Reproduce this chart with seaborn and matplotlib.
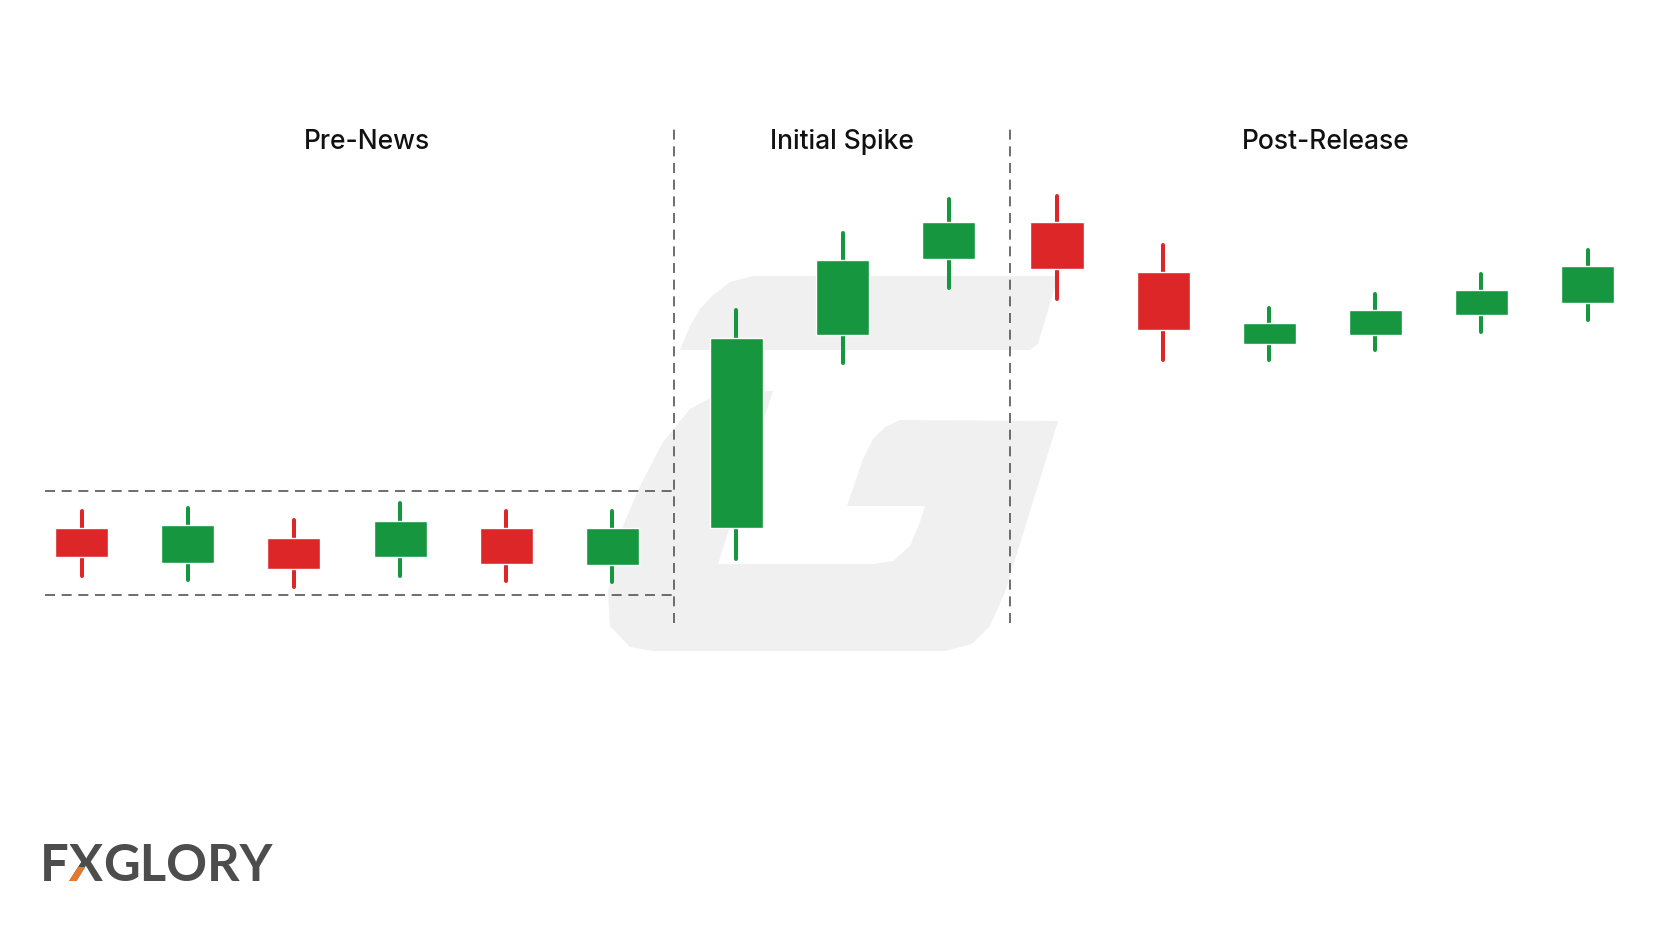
import matplotlib
matplotlib.use("Agg")
import matplotlib.pyplot as plt
from matplotlib.patches import Polygon, Rectangle
from matplotlib.transforms import IdentityTransform
import seaborn as sns
import numpy as np

# candle data (15 bars, arbitrary price units)
sections = ["Pre-News", "Initial Spike", "Post-Release"]
section_of = [0, 0, 0, 0, 0, 0, 1, 1, 1, 2, 2, 2, 2, 2, 2]
opens = [14.2, 10.9, 13.2, 11.4, 14.2, 10.7, 14.2, 32.4, 39.5, 43.0, 38.3, 31.5, 32.4, 34.2, 35.4]
closes = [11.4, 14.5, 10.3, 14.8, 10.8, 14.2, 32.1, 39.4, 43.0, 38.6, 32.8, 33.5, 34.7, 36.6, 38.9]
highs = [15.8, 16.1, 14.9, 16.5, 15.8, 15.8, 34.7, 42.0, 45.2, 45.4, 40.8, 34.9, 36.2, 38.1, 40.4]
lows = [9.7, 9.3, 8.6, 9.7, 9.2, 9.1, 11.3, 29.7, 36.8, 35.7, 30.0, 30.0, 30.9, 32.6, 33.8]

UP = "#16963f"
DOWN = "#dc2628"
DASH = "#555555"
LOGO = "#4d4d4d"

sns.set_theme(style="white")
plt.rcParams['font.family'] = ['Inter', 'DejaVu Sans']

W, H = 1664, 928
fig = plt.figure(figsize=(W / 100, H / 100), dpi=100, facecolor="white")
ax = fig.add_axes([0, 0, 1, 1])
ax.set_axis_off()
ax.set_xlim(-0.77, 14.91)
ax.set_ylim(-23.4, 64.0)

# small gap between the phases
offsets = np.array([0, 0.17, 0.19])
sec = np.array(section_of)
x = np.arange(len(opens)) + offsets[sec]
o = np.array(opens); c = np.array(closes)
colors = [UP if cc >= oo else DOWN for oo, cc in zip(o, c)]

# watermark "G" (figure pixel coords, top-left origin)
top_bar = [(680, 351), (690, 327), (700, 310), (712, 297), (730, 283), (753, 277), (1058, 277),
           (1038, 345), (1030, 351)]
g_body = [(773, 392), (737, 392), (712, 398), (690, 410), (663, 443), (640, 487), (623, 527),
          (608, 593), (610, 627), (630, 648), (653, 652), (945, 652), (972, 645), (990, 627),
          (1005, 593), (1058, 422), (900, 421), (885, 428), (873, 440), (863, 460), (847, 507),
          (925, 507), (920, 523), (910, 547), (893, 562), (873, 565), (718, 565)]
for pts in (top_bar, g_body):
    ax.add_patch(Polygon([(px / W, 1 - py / H) for px, py in pts], closed=True,
                         transform=fig.transFigure, facecolor="#f0f0f0", edgecolor="none", zorder=0))

# candles
ax.vlines(x, lows, highs, colors=colors, linewidth=2.9, capstyle="round", zorder=3)
ax.bar(x, np.abs(c - o), bottom=np.minimum(o, c), width=0.5, color=colors, zorder=4)

# phase dividers
divs = [x[sec == s].max() + 0.58 for s in range(len(sections) - 1)]
ax.vlines(divs, 5.2, 52.0, colors=DASH, linewidth=1.2, linestyles=(0, (6, 4)), zorder=2)

# pre-news range box
pre = sec == 0
rng_top = np.array(highs)[pre].max() + 1.2
rng_bot = np.array(lows)[pre].min() - 0.7
ax.hlines([rng_top, rng_bot], x[0] - 0.35, divs[0], colors=DASH, linewidth=1.2,
          linestyles=(0, (6, 4)), zorder=2)

# section titles
bounds = [x[0] - 0.2] + divs + [x[-1] + 0.5]
for i, name in enumerate(sections):
    ax.text((bounds[i] + bounds[i + 1]) / 2, 50.6, name, ha="center", va="center",
            fontsize=19, fontweight="medium", color="#111111")

# logo: gray word with an orange lower-left leg on the X
fs = 36.5
base_y = 0.051
lkw = dict(fontsize=fs, fontweight="bold", family=["Lato", "DejaVu Sans"], va="baseline", ha="left")
r = fig.canvas.get_renderer()
t_f = fig.text(0.024, base_y, "F", color=LOGO, **lkw)
bb_f = t_f.get_window_extent(r)
t_x = fig.text(bb_f.x1 / W, base_y, "X", color=LOGO, **lkw)
bb_x = t_x.get_window_extent(r)
t_o = fig.text(bb_f.x1 / W, base_y, "X", color="#e8772e", **lkw)
cap = 0.72 * fs * 100 / 72
t_o.set_clip_path(Rectangle((bb_x.x0, base_y * H - 4), bb_x.width * 0.5, cap * 0.36 + 4,
                            transform=IdentityTransform()))
fig.text(bb_x.x1 / W, base_y, "GLORY", color=LOGO, **lkw)

fig.savefig("out.png", dpi=100, facecolor="white")
